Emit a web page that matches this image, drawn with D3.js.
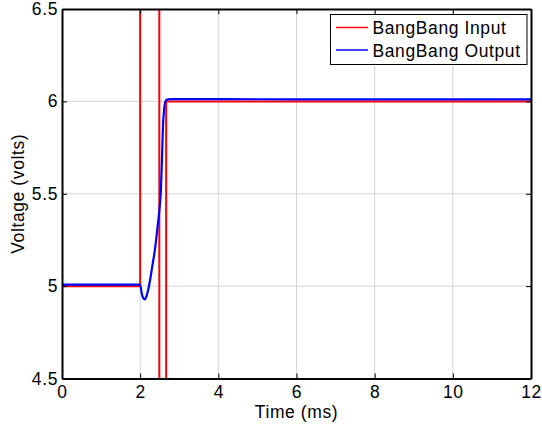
<!DOCTYPE html>
<html><head><meta charset="utf-8">
<script src="https://cdn.jsdelivr.net/npm/d3@7"></script>
<style>body{margin:0;background:#fff}svg{display:block}text{font-family:"Liberation Sans",Arial,sans-serif;letter-spacing:0.6px}</style>
</head><body><div id="chart"></div>
<script>
// Data
const inputTime  = [0, 2, 2, 2.49, 2.49, 2.665, 2.665, 12];
const inputVolts = [5, 5, 50, 50, -50, -50, 6, 6];
const outputTime  = [0, 2.0, 2.04, 2.08, 2.12, 2.16, 2.2, 2.26, 2.32, 2.385, 2.45, 2.5, 2.531, 2.56, 2.582, 2.61, 2.64, 2.67, 2.72, 2.8, 3.0, 4.0, 6.0, 12];
const outputVolts = [5.008, 5.008, 4.96, 4.935, 4.928, 4.945, 4.975, 5.04, 5.12, 5.21, 5.33, 5.43, 5.52, 5.70, 5.86, 5.95, 5.995, 6.008, 6.011, 6.012, 6.012, 6.012, 6.011, 6.011];
const xTicks = [0, 2, 4, 6, 8, 10, 12];
const yTicks = [4.5, 5, 5.5, 6, 6.5];
const seriesNames = ["BangBang Input", "BangBang Output"];
const seriesColors = ["#ff0000", "#0000ff"];

const W = 542, H = 427;
const m = {left: 62, right: 11, top: 9, bottom: 48.5};
const svg = d3.select("#chart").append("svg").attr("width", W).attr("height", H);
const x = d3.scaleLinear().domain([0, 12]).range([m.left, W - m.right]);
const y = d3.scaleLinear().domain([4.5, 6.5]).range([H - m.bottom, m.top]);

// grid
const g = svg.append("g");
g.selectAll(".gx").data(xTicks.slice(1, -1)).enter().append("line")
  .attr("x1", d => x(d)).attr("x2", d => x(d)).attr("y1", y(4.5)).attr("y2", y(6.5))
  .attr("stroke", "#d4d4d4").attr("stroke-width", 1);
g.selectAll(".gy").data(yTicks.slice(1, -1)).enter().append("line")
  .attr("y1", d => y(d)).attr("y2", d => y(d)).attr("x1", x(0)).attr("x2", x(12))
  .attr("stroke", "#d4d4d4").attr("stroke-width", 1);

// clip
svg.append("clipPath").attr("id", "clip").append("rect")
  .attr("x", x(0)).attr("y", y(6.5)).attr("width", x(12) - x(0)).attr("height", y(4.5) - y(6.5));

const line = d3.line().x(d => x(d[0])).y(d => y(d[1]));
const inData = inputTime.map((t, i) => [t, inputVolts[i]]);
const outData = outputTime.map((t, i) => [t, outputVolts[i]]);
const plot = svg.append("g").attr("clip-path", "url(#clip)");
plot.append("path").datum(inData).attr("d", line).attr("fill", "none")
  .attr("stroke", seriesColors[0]).attr("stroke-width", 2);
plot.append("path").datum(outData).attr("d", d3.line().curve(d3.curveMonotoneX).x(d => x(d[0])).y(d => y(d[1])))
  .attr("fill", "none").attr("stroke", seriesColors[1]).attr("stroke-width", 2.2);

// axes
const fs = "17.5px";
const xb = d3.axisBottom(x).tickValues(xTicks).tickFormat(d3.format("d")).tickSizeInner(-5).tickSizeOuter(0).tickPadding(7);
const xt = d3.axisTop(x).tickValues(xTicks).tickFormat("").tickSizeInner(-5).tickSizeOuter(0);
const yl = d3.axisLeft(y).tickValues(yTicks).tickFormat(d => d3.format("")(d)).tickSizeInner(-5).tickSizeOuter(0).tickPadding(4);
const yr = d3.axisRight(y).tickValues(yTicks).tickFormat("").tickSizeInner(-5).tickSizeOuter(0);
function style(sel) {
  sel.selectAll("path.domain").attr("stroke", "#000").attr("stroke-width", 2);
  sel.selectAll(".tick line").attr("stroke", "#000").attr("stroke-width", 1);
  sel.selectAll("text").attr("font-size", fs).attr("fill", "#000").attr("font-family", "Liberation Sans, Arial, sans-serif");
}
svg.append("g").attr("transform", `translate(0,${y(4.5)})`).call(xb).call(style);
svg.append("g").attr("transform", `translate(0,${y(6.5)})`).call(xt).call(style);
svg.append("g").attr("transform", `translate(${x(0)},0)`).call(yl).call(style);
svg.append("g").attr("transform", `translate(${x(12)},0)`).call(yr).call(style);

// labels
svg.append("text").attr("x", (x(0) + x(12)) / 2).attr("y", 417.5).attr("text-anchor", "middle")
  .attr("font-size", fs).text("Time (ms)");
svg.append("text").attr("transform", `translate(24,${(y(4.5) + y(6.5)) / 2}) rotate(-90)`)
  .attr("text-anchor", "middle").attr("font-size", fs).text("Voltage (volts)");

// legend
const lg = svg.append("g");
lg.append("rect").attr("x", 330.5).attr("y", 14.5).attr("width", 196.5).attr("height", 50)
  .attr("fill", "#fff").attr("stroke", "#000").attr("stroke-width", 1);
seriesNames.forEach((n, i) => {
  const yy = 27.5 + i * 22.5;
  lg.append("line").attr("x1", 336).attr("x2", 368).attr("y1", yy).attr("y2", yy)
    .attr("stroke", seriesColors[i]).attr("stroke-width", 1.5);
  lg.append("text").attr("x", 372.5).attr("y", yy + 6.5).attr("font-size", fs).text(n);
});
</script></body></html>
